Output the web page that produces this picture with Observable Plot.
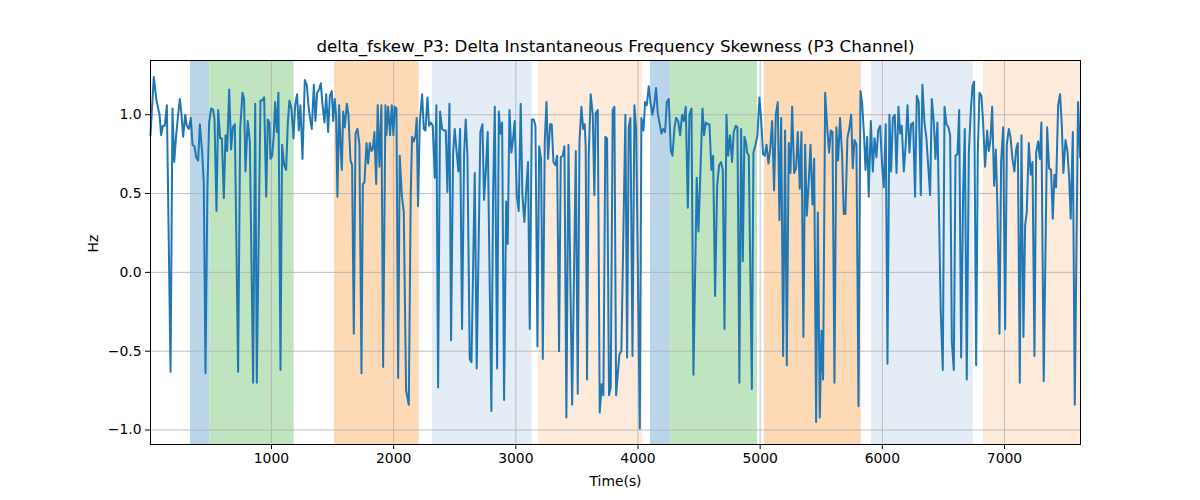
<!DOCTYPE html>
<html>
<head>
<meta charset="utf-8">
<script src="https://cdn.jsdelivr.net/npm/d3@7"></script>
<script src="https://cdn.jsdelivr.net/npm/@observablehq/plot@0.6"></script>
<style>
  html, body { margin: 0; padding: 0; background: white; }
  #chart { width: 1200px; height: 500px; }
</style>
</head>
<body>
<div id="chart"></div>
<script>
const titleText = "delta_fskew_P3: Delta Instantaneous Frequency Skewness (P3 Channel)";
const xLabel = "Time(s)";
const yLabel = "Hz";
const xTicks = [1000, 2000, 3000, 4000, 5000, 6000, 7000];
const yTicks = [-1.0, -0.5, 0.0, 0.5, 1.0];

const times = [
  10,37,59,84,97,111,127,144,174,190,204,220,236,250,264,277,294,307,324,340,354,370,384,400,414,433,446,460,476,490,506,523,534,550,564,580,594,610,624,637,654,670,684,700,727,744,763,776,787,806,823,850,867,880,910,924,940,957,970,984,
  992,1006,1019,1030,1044,1057,1074,1087,1104,1120,1134,1147,1164,1180,1194,1210,1224,1237,1254,1273,1289,1303,1317,1330,1347,1360,1374,1390,1404,1417,1434,1448,1464,1478,1494,1505,1518,1529,1540,1554,1568,1576,1587,1600,1617,1630,1647,1660,1674,1688,1704,1720,1737,1748,1761,1778,1791,1805,1819,1829,1843,1857,1870,1884,1900,1914,
  1933,1941,1955,1971,1985,1998,2009,2023,2037,2050,2067,2083,2102,2124,2140,2151,2165,2179,2189,2200,2214,2233,2247,2260,2277,2290,2304,2320,2337,2350,2364,2380,2397,2413,2427,2440,2457,2470,2487,2500,2514,2530,2544,2560,2577,2590,2604,2623,2637,2664,2680,2710,2727,2740,2757,2770,2800,2814,2828,2847,2861,2874,2888,2904,2921,2934,2948,
  2964,2978,2991,3008,3024,3040,3054,3070,3084,3100,3114,3131,3147,3161,3177,3191,3207,3221,3237,3251,3264,3281,3294,3308,3324,3338,3354,3368,3384,3398,3414,3431,3461,3491,3507,3521,3537,3551,3564,3572,3583,3597,3613,3630,3643,3654,3671,3687,3703,3717,3733,3747,3763,3777,3793,3807,3821,3834,3848,3864,3897,3911,3924,
  3938,3955,3971,3985,4015,4028,4045,4058,4072,4088,4102,4118,4132,4148,4162,4178,4192,4206,4222,4236,4252,4269,4282,4299,4312,4329,4345,4361,4375,4391,4408,4421,4438,4454,4481,4495,4528,4541,4555,4571,4585,4601,4615,4631,4648,4664,4680,4694,4708,4724,4738,4754,4770,4784,4800,4814,4830,4844,4858,4871,4885,
  4893,4907,4932,4945,4962,4978,4994,5008,5024,5038,5052,5068,5082,5098,5114,5128,5144,5158,5172,5188,5204,5218,5234,5248,5262,5278,5294,5308,5324,5338,5354,5368,5382,5398,5412,5428,5442,5458,5472,5488,5502,5515,5532,5548,5564,5578,5592,5608,5624,5638,5654,5671,5684,5698,5714,5731,5745,5758,5772,5788,5805,5821,5835,5851,
  5862,5876,5889,5906,5922,5936,5952,5966,5982,5998,6012,6028,6042,6058,6072,6086,6102,6116,6132,6146,6159,6176,6192,6206,6222,6236,6252,6268,6282,6298,6315,6328,6345,6361,6375,6391,6405,6421,6435,6451,6478,6495,6509,6525,6541,6555,6569,6585,6599,6615,6629,6645,6661,6675,6691,6708,6724,6738,6751,6768,6781,6795,6811,6825,6841,
  6858,6871,6885,6899,6915,6929,6942,6959,6972,6989,7005,7019,7035,7049,7065,7081,7095,7109,7125,7139,7155,7169,7182,7199,7215,7229,7245,7259,7275,7289,7302,7321,7349,7365,7381,7395,7409,7422,7439,7455,7469,7482,7499,7515,7529,7542,7559,7575,7602,7619
];

const values = [
  0.87,1.24,1.09,1.0,0.87,0.93,0.93,1.06,-0.63,1.04,0.70,0.87,1.0,1.1,1.0,0.86,1.0,0.93,0.91,0.98,0.81,0.80,0.73,0.71,0.94,0.76,0.57,-0.64,0.53,0.95,1.04,1.03,0.97,0.39,1.03,0.85,0.85,0.47,0.87,0.77,1.16,0.78,0.92,0.94,-0.63,0.91,1.14,1.1,0.64,0.96,0.83,-0.70,1.07,-0.70,1.09,1.09,1.11,0.48,0.97,0.95,
  0.72,0.74,0.87,1.08,0.89,1.14,-0.62,0.81,0.68,0.65,0.95,1.09,1.04,0.85,1.06,1.13,0.90,1.06,0.72,1.22,1.19,1.06,0.97,0.91,1.19,0.96,1.14,1.16,1.2,1.07,0.95,1.13,0.89,1.12,1.15,0.96,1.1,1.0,0.48,1.06,0.76,0.65,1.02,0.92,1.07,1.0,0.71,0.68,-0.39,0.88,0.91,0.81,-0.64,0.56,0.57,0.82,0.69,0.82,0.77,0.78,0.89,0.56,1.06,0.67,1.06,-0.6,
  1.06,0.87,1.05,0.87,1.06,0.87,1.05,1.04,-0.67,0.74,0.49,0.38,-0.75,-0.84,0.49,0.86,0.83,0.87,0.98,0.42,0.95,1.13,0.91,0.90,1.11,0.93,0.95,0.93,0.60,1.06,-0.73,1.02,0.91,0.90,0.90,0.51,1.07,-0.43,0.76,0.91,0.78,0.64,0.91,-0.36,0.76,0.97,0.74,-0.55,-0.57,0.63,-0.61,0.89,0.94,0.46,0.68,0.89,-0.88,0.49,1.05,-0.61,1.02,0.88,0.95,-0.81,0.45,0.18,1.03,
  0.76,0.85,0.96,0.49,0.39,1.07,0.49,0.32,0.51,0.70,-0.36,0.97,0.97,0.93,-0.47,0.80,0.72,-0.55,0.83,1.08,0.72,0.94,0.94,0.70,0.68,0.74,-0.50,0.73,0.74,0.80,-0.92,0.81,-0.84,0.77,-0.77,0.83,1.05,0.91,0.94,0.80,-0.68,0.74,1.13,1.0,0.49,1.01,1.03,-0.89,-0.71,-0.78,0.86,0.85,-0.78,-0.73,1.03,1.05,-0.78,-0.65,-0.52,-0.50,1.0,-0.54,0.92,
  0.98,-0.53,1.06,0.91,-0.99,0.98,0.90,1.08,1.06,1.18,1.08,1.0,1.06,1.17,1.01,0.94,0.88,0.91,0.89,1.08,1.10,0.77,0.74,0.92,0.98,0.96,0.87,1.0,0.96,1.05,0.41,1.0,1.04,-0.65,0.6,0.26,1.04,0.87,0.95,0.94,0.94,0.65,0.74,-0.15,0.55,0.68,0.70,0.65,-0.36,1.0,0.74,0.87,0.70,0.89,0.93,0.92,-0.70,0.91,0.07,0.86,0.82,
  0.76,0.74,-0.74,0.76,0.81,0.87,1.11,0.97,0.75,0.74,0.81,0.69,0.78,0.96,0.52,1.0,1.08,0.33,0.98,-0.53,0.90,-0.59,0.82,0.63,1.05,0.63,0.66,0.89,0.53,0.89,-0.41,0.81,0.36,0.58,0.81,0.43,0.72,-0.95,0.38,-0.92,-0.37,-0.68,1.14,0.93,0.76,0.90,0.89,-0.70,0.92,0.71,0.98,0.74,0.37,0.37,0.85,0.92,1.0,0.66,0.84,0.81,-0.85,1.15,1.07,0.86,
  0.65,0.86,0.48,0.96,0.64,0.85,0.73,0.90,0.93,0.68,0.54,0.94,-0.58,1.0,0.64,0.98,1.0,0.63,1.05,0.88,0.93,0.64,0.82,1.06,0.76,0.94,0.95,0.48,1.12,1.08,0.49,1.19,0.95,0.85,0.68,0.49,1.10,0.96,0.72,0.95,-0.25,-0.62,1.05,0.94,0.92,0.87,-0.44,-0.62,0.74,0.75,1.03,-0.54,0.49,0.91,-0.68,0.76,1.02,1.18,1.21,-0.59,0.74,1.14,1.12,0.95,0.67,
  0.90,0.77,0.84,1.05,0.55,0.78,0.42,-0.39,0.70,0.92,-0.36,0.81,0.91,0.86,0.72,0.64,0.78,0.82,-0.70,0.87,-0.41,0.30,0.38,0.82,0.62,0.70,-0.53,0.76,0.83,0.72,0.95,-0.69,0.92,0.66,0.65,0.34,0.62,0.54,1.06,1.13,0.93,0.63,0.84,0.77,0.60,0.34,0.89,-0.84,1.08,0.73
];

const regionStart = [337, 495, 1516, 2318, 3185, 4102, 4269, 5035, 5911, 6828];
const regionEnd   = [495, 1186, 2209, 3134, 4039, 4269, 4978, 5827, 6743, 7622];
const regionColor = ["#bbd5e8", "#c0e3c0", "#fed9b6", "#e4ecf6", "#feeada",
                     "#bbd5e8", "#c0e3c0", "#fed9b6", "#e4ecf6", "#feeada"];

const series = times.map((t, i) => ({t, v: values[i]}));
const regions = regionStart.map((s, i) => ({s, e: regionEnd[i], c: regionColor[i]}));

const minus = s => s.replace("-", "\u2212");

const chart = Plot.plot({
  width: 1200,
  height: 500,
  marginLeft: 150,
  marginRight: 120,
  marginTop: 60,
  marginBottom: 56,
  style: {fontFamily: "'DejaVu Sans', sans-serif", fontSize: "13.9px", background: "white", color: "black"},
  x: {domain: [10, 7622]},
  y: {domain: [-1.092, 1.344]},
  color: {type: "identity"},
  marks: [
    Plot.rect(regions, {x1: "s", x2: "e", fill: "c"}),
    Plot.gridX(xTicks, {stroke: "#b0b0b0", strokeOpacity: 1, strokeWidth: 0.8}),
    Plot.gridY(yTicks, {stroke: "#b0b0b0", strokeOpacity: 1, strokeWidth: 0.8}),
    Plot.line(series, {x: "t", y: "v", stroke: "#1f77b4", strokeWidth: 2, strokeLinejoin: "round"}),
    Plot.frame({stroke: "black", strokeWidth: 1}),
    Plot.axisX(xTicks, {tickSize: 5, tickPadding: 4, tickFormat: d => String(d), label: null, fontSize: 13.9}),
    Plot.axisY(yTicks, {tickSize: 5, tickPadding: 4, tickFormat: d => minus(d.toFixed(1)), label: null, fontSize: 13.9}),
    Plot.text([titleText], {frameAnchor: "top", dy: -14, fontSize: 16.7, lineAnchor: "middle", text: d => d}),
    Plot.text([xLabel], {frameAnchor: "bottom", dy: 37, fontSize: 13.9, lineAnchor: "middle", text: d => d}),
    Plot.text([yLabel], {frameAnchor: "left", dx: -57, rotate: -90, fontSize: 13.9, lineAnchor: "middle", text: d => d})
  ]
});
document.getElementById("chart").appendChild(chart);
</script>
</body>
</html>
